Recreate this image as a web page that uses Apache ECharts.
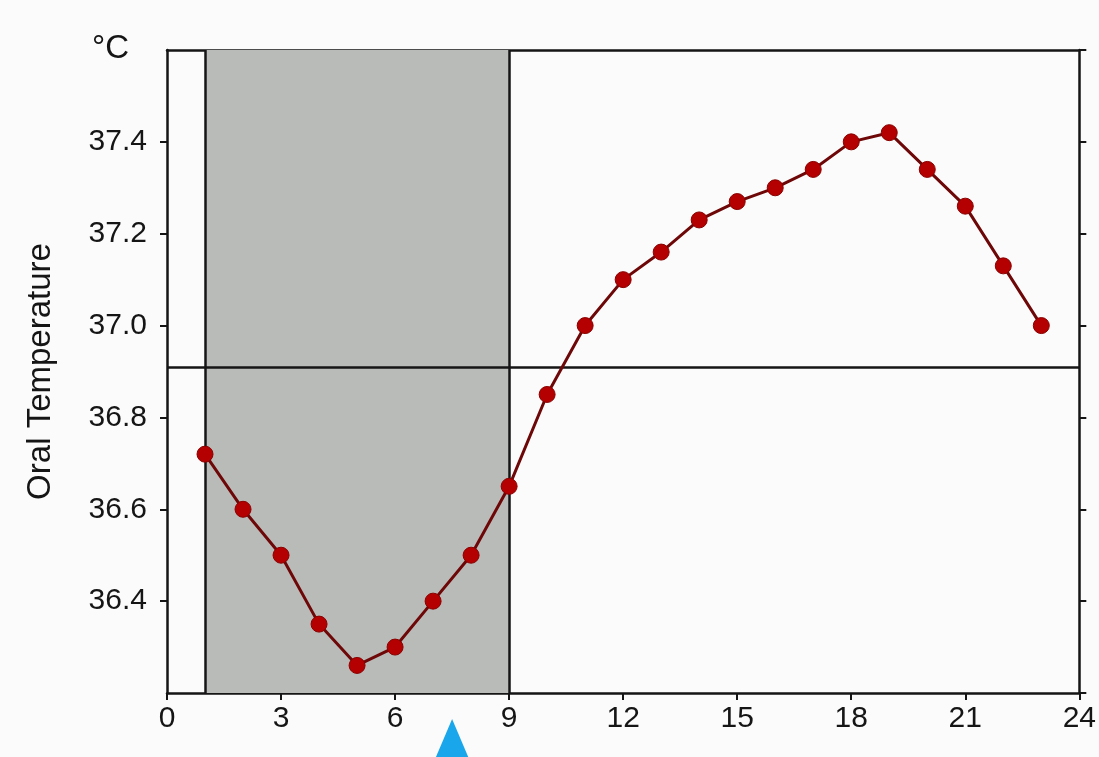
<!DOCTYPE html>
<html>
<head>
<meta charset="utf-8">
<title>Oral Temperature</title>
<script src="https://cdn.jsdelivr.net/npm/echarts@6/dist/echarts.min.js"></script>
<style>
  html, body { margin: 0; padding: 0; background: #fbfbfb; }
  #chart { width: 1099px; height: 757px; }
</style>
</head>
<body>
<div id="chart"></div>
<script>
// hour of day and oral temperature (°C)
const hours = [1, 2, 3, 4, 5, 6, 7, 8, 9, 10, 11, 12, 13, 14, 15, 16, 17, 18, 19, 20, 21, 22, 23];
const temps = [36.72, 36.60, 36.50, 36.35, 36.26, 36.30, 36.40, 36.50, 36.65, 36.85, 37.00, 37.10, 37.16, 37.23, 37.27, 37.30, 37.34, 37.40, 37.42, 37.34, 37.26, 37.13, 37.00];

// sleep period (shaded) and mean level
const sleepStart = 1;
const sleepEnd = 9;
const meanTemp = 36.91;
// marker under the x axis
const markerHour = 7.5;

const chart = echarts.init(document.getElementById('chart'));

const font = 'Liberation Sans, Arial, sans-serif';
const ink = '#151515';

const option = {
  backgroundColor: '#fbfbfb',
  animation: false,
  grid: {
    left: 167,
    right: 15,
    top: 50,
    bottom: 64
  },
  xAxis: [
    {
      type: 'value',
      min: 0,
      max: 24,
      interval: 3,
      axisLine: { show: true, onZero: false, lineStyle: { color: ink, width: 2.5 } },
      axisTick: { show: true, length: 7, lineStyle: { color: ink, width: 2 } },
      axisLabel: { color: ink, fontSize: 30, fontFamily: font, margin: 11 },
      splitLine: { show: false }
    },
    {
      type: 'value',
      position: 'top',
      min: 0,
      max: 24,
      axisLine: { show: true, onZero: false, lineStyle: { color: ink, width: 2.5 } },
      axisTick: { show: false },
      axisLabel: { show: false },
      splitLine: { show: false }
    }
  ],
  yAxis: [
    {
      type: 'value',
      min: 36.2,
      max: 37.6,
      interval: 0.2,
      name: 'Oral Temperature',
      nameLocation: 'middle',
      nameGap: 110,
      nameTextStyle: { color: ink, fontSize: 33, fontFamily: font },
      axisLine: { show: true, onZero: false, lineStyle: { color: ink, width: 2.5 } },
      axisTick: { show: true, length: 7, lineStyle: { color: ink, width: 2 } },
      axisLabel: {
        color: ink,
        fontSize: 30,
        fontFamily: font,
        margin: 20,
        showMinLabel: false,
        showMaxLabel: false,
        formatter: v => v.toFixed(1)
      },
      splitLine: { show: false }
    },
    {
      type: 'value',
      position: 'right',
      min: 36.2,
      max: 37.6,
      interval: 0.2,
      axisLine: { show: true, onZero: false, lineStyle: { color: ink, width: 2.5 } },
      axisTick: { show: true, length: 7, lineStyle: { color: ink, width: 2 } },
      axisLabel: { show: false },
      splitLine: { show: false }
    }
  ],
  graphic: [
    {
      type: 'text',
      left: 92,
      top: 32,
      style: { text: '°C', fill: ink, fontSize: 33, fontFamily: font }
    }
  ],
  series: [
    {
      type: 'line',
      data: hours.map((h, i) => [h, temps[i]]),
      symbol: 'circle',
      symbolSize: 16,
      z: 5,
      lineStyle: { color: '#6e0808', width: 3 },
      itemStyle: { color: '#b40000', borderColor: '#8a0000', borderWidth: 1 },
      markArea: {
        silent: true,
        itemStyle: { color: '#b9bbb8' },
        data: [[{ xAxis: sleepStart }, { xAxis: sleepEnd }]]
      },
      markLine: {
        silent: true,
        symbol: 'none',
        label: { show: false },
        lineStyle: { color: ink, width: 2.5, type: 'solid' },
        data: [
          { xAxis: sleepStart },
          { xAxis: sleepEnd },
          { yAxis: meanTemp }
        ]
      },
      markPoint: {
        silent: true,
        symbol: 'triangle',
        symbolSize: [34, 40],
        symbolOffset: [0, 46],
        label: { show: false },
        itemStyle: { color: '#1aa6ea' },
        data: [{ coord: [markerHour, 36.2] }]
      }
    }
  ]
};

chart.setOption(option);
</script>
</body>
</html>
